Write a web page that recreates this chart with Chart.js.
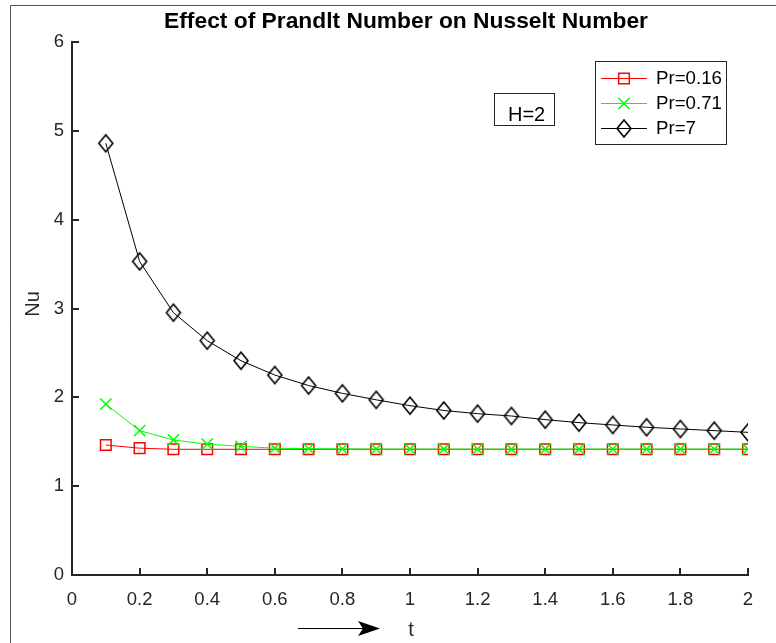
<!DOCTYPE html>
<html>
<head>
<meta charset="utf-8">
<script src="https://cdn.jsdelivr.net/npm/chart.js@4.4.0/dist/chart.umd.min.js"></script>
<style>
html,body{margin:0;padding:0;background:#fff;}
#wrap{width:776px;height:643px;}
</style>
</head>
<body>
<div id="wrap"><canvas id="c" width="776" height="643"></canvas></div>
<script>
// ---- data ----
const tValues = [0.1,0.2,0.3,0.4,0.5,0.6,0.7,0.8,0.9,1.0,1.1,1.2,1.3,1.4,1.5,1.6,1.7,1.8,1.9,2.0];
const nuPr016 = [1.463,1.428,1.415,1.415,1.415,1.415,1.415,1.415,1.415,1.415,1.415,1.415,1.415,1.415,1.415,1.415,1.415,1.415,1.415,1.415];
const nuPr071 = [1.923,1.625,1.52,1.473,1.448,1.428,1.422,1.42,1.418,1.418,1.418,1.418,1.418,1.418,1.418,1.418,1.418,1.418,1.418,1.418];
const nuPr7   = [4.86,3.53,2.953,2.638,2.412,2.251,2.133,2.045,1.972,1.906,1.852,1.816,1.79,1.749,1.715,1.689,1.663,1.644,1.625,1.606];
const seriesNames = ['Pr=0.16','Pr=0.71','Pr=7'];
const xTickValues = [0,0.2,0.4,0.6,0.8,1,1.2,1.4,1.6,1.8,2];
const xTickLabels = ['0','0.2','0.4','0.6','0.8','1','1.2','1.4','1.6','1.8','2'];
const yTickValues = [0,1,2,3,4,5,6];
const yTickLabels = ['0','1','2','3','4','5','6'];
const titleText = 'Effect of Prandlt Number on Nusselt Number';
const xTitle = 't';
const yTitle = 'Nu';
const noteText = 'H=2';

const FONT = "'Liberation Sans', Arial, Helvetica, sans-serif";
const AX = '#262626';

function pts(ys){ return tValues.map((t,i)=>({x:t,y:ys[i]})); }

// tall diamond marker (MATLAB style)
function makeDiamond(hw, hh, color){
  const c = document.createElement('canvas');
  const w = Math.ceil(hw*2+4), h = Math.ceil(hh*2+4);
  c.width = w; c.height = h;
  const g = c.getContext('2d');
  const cx = w/2, cy = h/2;
  g.strokeStyle = color; g.lineWidth = 1.6;
  g.beginPath(); g.moveTo(cx-hw,cy); g.lineTo(cx,cy-hh); g.lineTo(cx+hw,cy); g.lineTo(cx,cy+hh); g.closePath(); g.stroke();
  return c;
}
const diamondImg = makeDiamond(7, 8.5, '#000');

const styles = [
  {color:'#ff0000', pointStyle:'rect', r:7.5, order:3},
  {color:'#00ff00', pointStyle:'crossRot', r:8, order:2},
  {color:'#000000', pointStyle:diamondImg, r:8, order:1}
];
const seriesData = [nuPr016, nuPr071, nuPr7];

function drawMarker(ctx, style, x, y, r, color){
  ctx.save();
  if (style instanceof HTMLCanvasElement){ ctx.drawImage(style, x-style.width/2, y-style.height/2); ctx.restore(); return; }
  ctx.strokeStyle = color; ctx.lineWidth = 1.5;
  ctx.beginPath();
  if (style==='rect'){ const s=r*Math.SQRT1_2; ctx.rect(x-s,y-s,2*s,2*s); }
  else if (style==='crossRot'){ const s=r*Math.SQRT1_2; ctx.moveTo(x-s,y-s); ctx.lineTo(x+s,y+s); ctx.moveTo(x+s,y-s); ctx.lineTo(x-s,y+s); }
  ctx.stroke();
  ctx.restore();
}

const decor = {
  id:'decor',
  afterDraw(chart){
    const ctx = chart.ctx;
    const xs = chart.scales.x, ys = chart.scales.y;
    const ca = chart.chartArea;
    ctx.save();
    // outer frame
    ctx.strokeStyle = '#555'; ctx.lineWidth = 1;
    ctx.beginPath(); ctx.moveTo(10.5,643); ctx.lineTo(10.5,5.5); ctx.lineTo(776,5.5); ctx.stroke();
    // inward ticks
    ctx.strokeStyle = AX; ctx.lineWidth = 2;
    ctx.beginPath();
    xTickValues.forEach(v=>{ const px = Math.round(xs.getPixelForValue(v)); ctx.moveTo(px, ca.bottom); ctx.lineTo(px, ca.bottom-7); });
    yTickValues.forEach(v=>{ const py = Math.round(ys.getPixelForValue(v)); ctx.moveTo(ca.left, py); ctx.lineTo(ca.left+7, py); });
    ctx.stroke();
    // title
    ctx.fillStyle = '#000';
    ctx.font = 'bold 22.8px ' + FONT;
    ctx.textAlign = 'center'; ctx.textBaseline = 'alphabetic';
    ctx.fillText(titleText, 406, 28);
    // y title
    ctx.save();
    ctx.translate(39, 304); ctx.rotate(-Math.PI/2);
    ctx.font = '20px ' + FONT; ctx.fillStyle = AX;
    ctx.textAlign='center'; ctx.textBaseline='alphabetic';
    ctx.fillText(yTitle, 0, 0);
    ctx.restore();
    // x title and arrow
    ctx.font = '20px ' + FONT; ctx.fillStyle = AX; ctx.textAlign='center';
    ctx.fillText(xTitle, 411, 636);
    ctx.strokeStyle = '#000'; ctx.lineWidth = 1.2;
    ctx.beginPath(); ctx.moveTo(298, 628.5); ctx.lineTo(366, 628.5); ctx.stroke();
    ctx.fillStyle = '#000';
    ctx.beginPath(); ctx.moveTo(380, 628.5); ctx.lineTo(358, 621); ctx.lineTo(363, 628.5); ctx.lineTo(358, 636); ctx.closePath(); ctx.fill();
    // H=2 box
    ctx.fillStyle = '#fff'; ctx.fillRect(494.5, 93.5, 60, 32);
    ctx.strokeStyle = AX; ctx.lineWidth = 1;
    ctx.strokeRect(494.5, 93.5, 60, 32);
    ctx.fillStyle = '#000'; ctx.font = '20px ' + FONT; ctx.textAlign='left';
    ctx.fillText(noteText, 508, 121);
    // legend
    ctx.fillStyle = '#fff'; ctx.fillRect(595.5, 61.5, 131, 83);
    ctx.strokeStyle = AX; ctx.lineWidth = 1;
    ctx.strokeRect(595.5, 61.5, 131, 83);
    const rows = [78, 103, 128];
    styles.forEach((s,i)=>{
      const y = rows[i] + 0.5;
      ctx.strokeStyle = s.color; ctx.lineWidth = 1;
      ctx.beginPath(); ctx.moveTo(601, y); ctx.lineTo(647, y); ctx.stroke();
      drawMarker(ctx, s.pointStyle, 624, y, s.r, s.color);
      ctx.fillStyle = '#000'; ctx.font = '18.7px ' + FONT; ctx.textAlign='left'; ctx.textBaseline='middle';
      ctx.fillText(seriesNames[i], 656, rows[i]+1);
    });
    ctx.restore();
  }
};

const datasets = seriesData.map((d,i)=>({
  label: seriesNames[i],
  data: pts(d),
  borderColor: styles[i].color,
  backgroundColor: 'rgba(0,0,0,0)',
  borderWidth: 1,
  pointStyle: styles[i].pointStyle,
  pointRadius: styles[i].r,
  pointBorderWidth: 1.5,
  pointBorderColor: styles[i].color,
  pointBackgroundColor: 'rgba(0,0,0,0)',
  tension: 0,
  order: styles[i].order
}));

new Chart(document.getElementById('c').getContext('2d'), {
  type: 'line',
  data: { datasets },
  plugins: [decor],
  options: {
    responsive: false,
    animation: false,
    devicePixelRatio: 1,
    layout: { padding: { top: 42, right: 28, left: 0, bottom: 0 } },
    plugins: { legend: {display:false}, title: {display:false}, tooltip: {enabled:false} },
    scales: {
      x: {
        type: 'linear', min: 0, max: 2,
        afterBuildTicks: s => { s.ticks = xTickValues.map(v=>({value:v})); },
        afterFit: s => { s.height = 68; },
        ticks: { autoSkip:false, maxRotation:0, callback:(v,i)=>xTickLabels[i], font:{family:FONT,size:18.5}, color:AX, padding:14 },
        grid: { display:false, drawTicks:false },
        border: { display:true, color:AX, width:2 }
      },
      y: {
        type: 'linear', min: 0, max: 6,
        afterBuildTicks: s => { s.ticks = yTickValues.map(v=>({value:v})); },
        afterFit: s => { s.width = 72; },
        ticks: { autoSkip:false, callback:(v,i)=>yTickLabels[i], font:{family:FONT,size:18.5}, color:AX, padding:8 },
        grid: { display:false, drawTicks:false },
        border: { display:true, color:AX, width:2 }
      }
    }
  }
});
</script>
</body>
</html>
